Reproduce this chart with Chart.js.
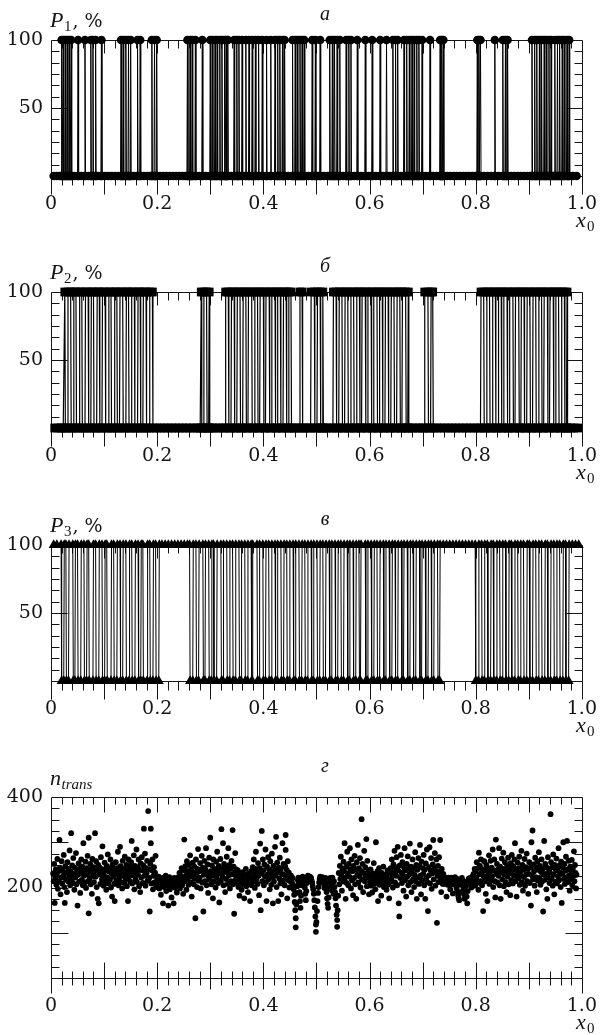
<!DOCTYPE html>
<html><head><meta charset="utf-8">
<script src="https://cdn.jsdelivr.net/npm/chart.js@4.4.1/dist/chart.umd.min.js"></script>
<style>
html,body{margin:0;padding:0;background:#fff;}
#wrap{position:relative;width:614px;height:1035px;overflow:hidden;}
canvas{position:absolute;left:0;}
</style></head><body>
<div id="wrap">
<canvas id="c1" width="614" height="250" style="top:0px"></canvas>
<canvas id="c2" width="614" height="252" style="top:250px"></canvas>
<canvas id="c3" width="614" height="252" style="top:502px"></canvas>
<canvas id="c4" width="614" height="281" style="top:754px"></canvas>
</div>
<script>
// ---------- tick labels ----------
const xTickLabels = ['0','0.2','0.4','0.6','0.8','1.0'];
const pTickLabels = ['','50','100'];
const nTickLabels = ['','200','400'];

// ---------- data (x0 in thousandths) ----------
// P1: samples at 100 % and at 0 %
const p1Up = [20,23,27,31,35,38,51,64,75,79,84,95,132,136,141,146,150,163,168,190,195,199,257,262,266,272,285,300,304,309,313,318,322,327,330,333,345,350,354,360,367,373,379,385,391,398,406,414,422,427,431,436,440,455,460,464,469,473,477,492,498,507,525,530,534,539,544,556,561,565,577,592,605,620,632,644,649,653,665,670,675,680,684,689,693,699,714,733,736,739,803,806,809,836,851,856,860,906,911,915,920,924,929,933,938,942,949,954,958,963,967,972,976];
const p1Down = [5,11,16,19,21,22,24,26,28,30,32,34,36,37,39,44,50,52,57,63,65,70,74,76,78,80,83,85,89,94,96,102,108,114,120,126,131,133,135,137,140,142,145,147,149,151,156,162,164,167,169,175,181,186,189,191,194,196,198,200,206,212,218,224,230,236,242,248,253,256,258,261,263,265,267,271,273,279,284,286,292,299,301,303,305,308,310,312,314,317,319,321,323,326,328,329,331,332,334,339,344,346,349,351,353,355,359,361,366,368,372,374,378,380,384,386,390,392,397,399,405,407,413,415,421,423,426,428,430,432,435,437,439,441,447,454,456,459,461,463,465,468,470,472,474,476,478,485,491,493,497,499,502,506,508,514,520,524,526,529,531,533,535,538,540,543,545,550,555,557,560,562,564,566,571,576,578,584,591,593,599,604,606,612,619,621,626,631,633,638,643,645,648,650,652,654,659,664,666,669,671,674,676,679,681,683,685,688,690,692,694,698,700,706,713,715,720,726,732,734,735,737,738,740,746,752,758,764,770,776,782,788,794,799,802,804,805,807,808,810,816,822,829,835,837,843,850,852,855,857,859,861,867,873,879,885,891,897,902,905,907,910,912,914,916,919,921,923,925,928,930,932,934,937,939,941,943,946,948,950,953,955,957,959,962,964,966,968,971,973,975,977,983,990];

// P2
const p2Up = [26,32,37,43,47,54,58,65,70,76,80,87,91,97,102,109,113,120,124,130,135,142,146,152,157,164,168,174,179,186,191,283,288,293,298,329,334,340,345,351,356,362,367,372,378,384,389,394,400,405,411,416,422,427,432,438,443,448,452,469,473,490,496,502,507,512,532,537,543,548,554,559,565,570,576,581,586,592,597,603,608,614,619,624,630,635,641,646,652,657,662,668,673,704,710,716,719,810,815,821,826,832,837,843,848,853,859,864,870,875,881,886,891,897,902,908,913,919,924,929,935,940,946,951,956,962,967,972];
const p2Down = [7,13,19,23,27,31,38,42,48,53,59,64,71,75,81,86,92,96,103,108,114,119,125,129,136,141,147,151,158,163,169,173,180,185,192,199,206,213,220,227,234,241,248,255,262,269,276,281,284,287,294,297,299,304,310,317,324,328,335,339,346,350,357,361,368,371,379,383,390,393,401,404,412,415,423,426,433,437,444,447,453,458,462,468,474,479,484,489,497,501,508,511,513,519,525,531,538,542,549,553,560,564,571,575,582,585,593,596,604,607,615,618,625,629,636,640,647,651,658,661,669,672,674,681,687,693,700,703,711,715,720,727,734,741,748,755,762,769,776,783,790,797,804,809,816,820,827,831,838,842,849,852,860,863,871,874,882,885,892,896,903,907,914,918,925,928,936,939,947,950,957,961,968,971,973,979,985,992];

// P3
const p3Up = [5,11,19,25,28,34,41,46,50,57,62,68,71,80,84,91,96,102,105,114,118,125,130,136,141,148,152,159,164,170,173,182,186,193,197,204,209,215,221,227,233,239,245,251,257,261,268,273,279,286,291,297,303,306,313,320,325,331,337,342,348,354,359,365,371,377,380,388,393,399,405,410,416,422,427,433,439,444,450,456,461,467,473,478,484,490,495,501,507,512,518,524,529,535,541,546,552,558,563,569,575,580,584,592,597,603,609,614,620,626,631,637,643,648,654,660,665,671,677,682,688,694,699,705,711,716,722,728,733,739,745,751,757,763,769,775,781,787,793,799,806,811,817,822,829,833,840,845,851,856,863,867,874,879,885,890,897,901,908,913,919,924,931,935,942,947,953,958,965,969,976,982,988,994];
const p3Down = [20,24,29,33,42,45,51,56,63,67,72,79,85,90,97,101,106,113,119,124,131,135,142,147,153,158,165,169,174,181,187,192,198,203,262,267,274,278,287,290,298,302,307,312,321,324,332,336,343,347,355,358,366,370,378,379,389,392,400,404,411,415,423,426,434,438,445,449,457,460,468,472,479,483,491,494,502,506,513,517,525,528,536,540,547,551,559,562,570,574,581,583,593,596,604,608,615,619,627,630,638,642,649,653,661,664,672,676,683,687,695,698,706,710,717,721,729,732,800,805,812,816,823,828,834,839,846,850,857,862,868,873,880,884,891,896,902,907,914,918,925,930,936,941,948,952,959,964,970,975];

// n_trans: [x0 (thousandths), n]
const nTrans = [
[4,231],[5,214],[6,252],[7,166],[8,221],[9,240],[10,206],
[11,228],[12,263],[13,197],[14,236],[15,213],[16,305],[17,244],[18,185],[19,222],[20,258],
[21,209],[22,238],[23,226],[24,272],[25,201],[26,166],[27,247],[28,218],[29,233],[30,190],
[31,256],[32,214],[33,241],[34,227],[35,282],[36,205],[37,236],[38,320],[39,219],[40,249],
[41,210],[42,265],[43,230],[44,195],[45,244],[46,222],[47,276],[48,207],[49,239],[50,160],
[51,228],[52,253],[53,213],[54,241],[55,188],[56,232],[57,262],[58,217],[59,246],[60,205],
[61,298],[62,226],[63,238],[64,211],[65,257],[66,199],[67,243],[68,229],[69,270],[70,214],
[71,310],[71,143],[72,235],[73,220],[74,252],[75,207],[76,241],[77,186],[78,263],[79,226],
[80,245],[81,212],[82,236],[83,320],[84,224],[85,258],[86,201],[87,239],[88,175],[89,250],
[90,165],[91,229],[92,244],[93,208],[94,267],[95,233],[96,218],[97,291],[98,240],[99,204],
[100,226],[101,255],[102,213],[103,238],[104,195],[105,248],[106,222],[107,273],[108,209],[109,235],
[110,243],[111,217],[112,262],[113,200],[114,231],[115,180],[116,251],[117,224],[118,240],[119,208],
[120,170],[121,236],[122,256],[123,215],[124,243],[125,228],[126,279],[127,205],[128,238],[129,222],
[130,290],[131,247],[132,212],[133,233],[134,198],[135,259],[136,226],[137,241],[138,210],[139,268],
[140,231],[141,219],[142,250],[143,203],[144,237],[145,170],[146,262],[147,224],[148,245],[149,213],
[150,234],[151,256],[152,303],[153,209],[154,240],[155,227],[156,271],[157,196],[158,248],[159,218],
[160,236],[161,284],[162,212],[163,245],[164,228],[165,262],[166,203],[167,239],[168,190],[169,253],
[170,222],[171,267],[172,238],[173,210],[174,249],[175,330],[176,226],[177,275],[178,204],[179,243],
[180,231],[181,259],[182,215],[183,369],[184,240],[185,221],[186,147],[187,252],[188,330],[188,298],[189,209],
[190,238],[191,262],[192,196],[193,226],[194,245],[195,211],[196,233],[197,270],[198,201],[199,225],
[200,217],[201,209],[203,224],[204,198],[205,213],[207,184],[208,220],[209,206],
[210,215],[211,165],[212,222],[213,201],[214,210],[216,226],[217,192],[218,212],[219,204],
[220,218],[221,160],[222,208],[223,223],[224,196],[226,214],[227,178],[228,219],[229,205],
[230,212],[231,165],[232,221],[233,200],[234,216],[236,208],[237,189],[238,222],[239,211],
[240,203],[241,217],[242,232],[243,198],[244,226],[245,210],[246,243],[247,205],[248,221],[249,186],
[250,238],[251,306],[252,214],[253,247],[254,226],[255,195],[256,258],[257,219],[258,236],[259,206],
[260,250],[261,228],[262,271],[263,211],[264,240],[265,180],[266,224],[267,255],[268,233],[269,207],
[270,246],[271,219],[272,132],[273,262],[274,229],[275,201],[276,241],[277,285],[278,215],[279,236],
[280,222],[281,254],[282,198],[283,238],[284,270],[285,211],[286,244],[287,147],[288,228],[289,259],
[290,214],[291,240],[292,287],[293,205],[294,233],[295,251],[296,188],[297,224],[298,266],[299,217],
[300,310],[301,236],[302,207],[303,249],[304,226],[305,176],[306,262],[307,213],[308,241],[309,230],
[310,200],[311,257],[312,222],[313,279],[314,239],[315,210],[316,248],[317,167],[318,231],[319,263],
[320,215],[321,329],[322,243],[323,224],[324,298],[325,205],[326,252],[327,234],[328,190],[329,245],
[330,219],[331,268],[332,236],[333,208],[334,287],[335,227],[336,250],[337,198],[338,241],[339,214],
[340,259],[341,229],[342,327],[343,207],[344,246],[345,142],[346,233],[347,276],[348,218],[349,240],
[350,225],[351,210],[352,238],[353,201],[354,219],[355,182],[356,231],[357,212],[358,226],[359,195],
[360,220],[361,234],[362,207],[363,215],[364,176],[365,228],[366,211],[367,241],[368,203],[369,222],
[370,216],[371,190],[372,230],[373,208],[374,224],[375,170],[376,213],[377,236],[378,205],[379,221],
[380,245],[381,213],[382,262],[383,228],[384,199],[385,241],[386,279],[387,219],[388,236],[389,208],
[390,254],[391,226],[392,183],[393,243],[394,297],[395,150],[396,231],[397,325],[398,214],[399,262],
[400,238],[401,205],[402,251],[403,225],[404,284],[405,212],[406,170],[407,246],[408,229],[409,267],
[410,218],[411,240],[412,196],[413,258],[414,232],[415,206],[416,275],[417,223],[418,165],[419,248],
[420,213],[421,237],[422,290],[423,226],[424,312],[425,201],[426,255],[427,234],[428,170],[429,244],
[430,220],[431,266],[432,209],[433,241],[434,185],[435,230],[436,298],[437,215],[438,252],[439,228],
[440,205],[441,247],[442,316],[442,283],[443,223],[444,239],[445,176],[446,258],[447,216],[448,233],[449,200],
[450,222],[451,214],[452,226],[453,217],[454,210],[455,221],[456,206],[457,196],[458,184],[459,168],
[460,150],[461,112],[461,132],[462,163],[463,188],[464,203],[465,216],[466,222],[467,211],[468,190],[469,170],
[470,155],[471,182],[472,205],[473,219],[474,224],[475,215],[476,221],[477,212],[478,200],[479,186],
[480,172],[481,192],[482,210],[483,220],[484,226],[485,217],[486,222],[487,214],[488,224],[489,218],
[490,221],[491,215],[492,210],[493,203],[494,196],[495,186],[496,172],[497,156],[498,136],[499,118],[499,102],
[500,124],[501,148],[502,170],[503,188],[504,201],[505,211],[506,219],[507,224],[508,216],[509,222],
[510,217],[511,223],[512,214],[513,220],[514,208],[515,199],[516,213],[517,221],[518,206],[519,190],
[520,176],[521,164],[522,155],[523,178],[524,198],[525,212],[526,221],[527,215],[528,207],[529,194],
[530,222],[531,210],[532,186],[533,214],[534,201],[535,190],[536,176],[537,160],[538,140],[539,113],[539,128],
[540,150],[541,182],[542,232],[543,207],[544,248],[545,219],[546,268],[547,228],[548,193],[549,241],
[550,213],[551,257],[552,236],[553,298],[554,222],[555,175],[556,246],[557,210],[558,279],[559,231],
[560,205],[561,252],[562,224],[563,287],[564,240],[565,198],[566,262],[567,216],[568,236],[569,183],
[570,248],[571,221],[572,270],[573,207],[574,239],[575,175],[576,256],[577,228],[578,294],[579,211],
[580,243],[581,225],[582,265],[583,200],[584,236],[585,351],[586,218],[587,252],[588,190],[589,232],
[590,281],[591,214],[592,245],[593,227],[594,307],[595,203],[596,259],[597,222],[598,238],[599,185],
[600,226],[601,212],[602,240],[603,204],[604,223],[605,189],[606,231],[607,215],[608,254],[609,208],
[610,221],[611,196],[612,300],[613,229],[614,213],[615,236],[616,170],[617,218],[618,243],[619,206],
[620,224],[621,212],[622,182],[623,232],[624,207],[625,219],[626,246],[627,201],[628,227],[629,214],
[630,210],[631,229],[632,195],[633,220],[634,238],[635,206],[636,216],[637,176],[638,231],[639,212],
[640,243],[641,219],[642,262],[643,228],[644,200],[645,251],[646,234],[647,281],[648,211],[649,245],
[650,226],[651,267],[652,205],[653,290],[654,238],[655,165],[656,136],[657,249],[658,221],[659,272],
[660,233],[661,210],[662,256],[663,227],[664,193],[665,244],[666,287],[667,216],[668,238],[669,180],
[670,252],[671,224],[672,269],[673,205],[674,241],[675,229],[676,297],[677,212],[678,246],[679,190],
[680,235],[681,262],[682,218],[683,244],[684,201],[685,228],[686,278],[687,213],[688,250],[689,175],
[690,239],[691,222],[692,265],[693,208],[694,247],[695,294],[696,226],[697,185],[698,257],[699,216],
[700,243],[701,230],[702,272],[703,205],[704,239],[705,175],[706,253],[707,221],[708,284],[709,212],
[710,148],[711,245],[712,227],[713,289],[714,209],[715,238],[716,265],[717,197],[718,231],[719,251],
[720,305],[721,218],[722,242],[723,276],[724,204],[725,236],[726,262],[727,122],[728,226],[729,248],
[730,212],[731,267],[732,235],[733,305],[734,219],[735,190],[736,241],[737,224],[738,208],[739,230],
[740,216],[741,223],[742,208],[743,218],[744,212],[745,180],[746,221],[747,206],[748,215],[749,222],
[750,211],[751,219],[752,196],[753,214],[754,222],[755,207],[756,217],[757,187],[758,220],[759,210],
[760,216],[761,223],[762,205],[763,214],[764,198],[765,219],[766,190],[767,182],[768,176],[769,172],
[770,190],[771,206],[772,218],[773,211],[774,221],[775,208],[776,215],[777,197],[778,185],[779,175],
[780,188],[781,203],[782,213],[783,180],[784,165],[785,192],[786,210],[787,220],[788,213],[789,206],
[790,221],[791,214],[792,200],[793,219],[794,225],[795,209],[796,230],[797,216],[798,241],[799,204],
[800,236],[801,222],[802,256],[803,210],[804,243],[805,195],[806,277],[807,229],[808,248],[809,214],
[810,262],[811,233],[812,205],[813,240],[814,148],[815,225],[816,258],[817,213],[818,237],[819,186],
[820,250],[821,219],[822,170],[823,242],[824,228],[825,271],[826,208],[827,235],[828,259],[829,216],
[830,244],[831,225],[832,284],[833,201],[834,238],[835,262],[836,214],[837,178],[838,306],[839,230],
[840,252],[841,211],[842,240],[843,226],[844,287],[845,205],[846,246],[847,175],[848,233],[849,264],
[850,218],[851,241],[852,277],[853,203],[854,229],[855,256],[856,212],[857,236],[858,190],[859,248],
[860,224],[861,266],[862,207],[863,243],[864,231],[865,183],[866,254],[867,216],[868,272],[869,238],
[870,209],[871,247],[872,226],[873,262],[874,298],[875,214],[876,240],[877,180],[878,231],[879,255],
[880,220],[881,243],[882,268],[883,206],[884,236],[885,226],[886,281],[887,212],[888,250],[889,193],
[890,239],[891,223],[892,263],[893,204],[894,245],[895,229],[896,275],[897,214],[898,241],[899,186],
[900,230],[901,256],[902,210],[903,244],[904,160],[905,300],[906,227],[907,326],[908,218],[909,251],
[910,236],[911,204],[912,266],[913,223],[914,245],[915,190],[916,258],[917,215],[918,239],[919,278],
[920,221],[921,248],[922,206],[923,234],[924,262],[925,213],[926,241],[927,147],[928,229],[929,303],
[930,217],[931,252],[932,230],[933,196],[934,244],[935,175],[936,267],[937,222],[938,240],[939,210],
[940,233],[941,362],[942,256],[943,219],[944,245],[945,204],[946,273],[947,228],[948,185],[949,250],
[950,213],[951,238],[952,264],[953,209],[954,242],[955,225],[956,287],[957,216],[958,249],[959,233],
[960,201],[961,257],[962,166],[963,230],[964,244],[965,300],[966,219],[967,252],[968,208],[969,237],
[970,268],[971,223],[972,303],[973,240],[974,212],[975,259],[976,227],[977,193],[978,246],[979,218],
[980,236],[981,261],[982,205],[983,242],[984,226],[985,280],[986,214],[987,250],[988,232],[989,198],[990,228]
];

// ---------- helpers ----------
const INK = '#151515';
const DIGIT_FONT = {family: '"DejaVu Serif", serif', size: 19};
function levelSeries(up, down) {
  const pts = up.map(v => ({x: v / 1000, y: 100})).concat(down.map(v => ({x: v / 1000, y: 0})));
  pts.sort((a, b) => a.x - b.x);
  return pts;
}
function crisp(v) { return Math.round(v) + 0.5; }

const framePlugin = {
  id: 'frame',
  beforeDatasetsDraw(chart, args, o) {
    const ctx = chart.ctx, xs = chart.scales.x, ys = chart.scales.y;
    const L = crisp(xs.getPixelForValue(0)), R = crisp(xs.getPixelForValue(1));
    const T = crisp(ys.getPixelForValue(ys.max)), B = crisp(ys.getPixelForValue(0));
    ctx.save();
    ctx.strokeStyle = INK; ctx.lineWidth = 1;
    ctx.beginPath();
    const seg = (x1, y1, x2, y2) => { ctx.moveTo(x1, y1); ctx.lineTo(x2, y2); };
    seg(L, T, R, T); seg(L, B, R, B);
    seg(L, T, L, B + o.sideDrop); seg(R, T, R, B + o.sideDrop);
    for (let i = 1; i < 50; i++) {
      const px = crisp(xs.getPixelForValue(i / 50));
      const major = i % 5 === 0;
      seg(px, T, px, T + (major ? o.topMajor : o.topMinor));
      seg(px, B - (major ? o.botUpMajor : o.botUpMinor), px, B + (major ? o.botDnMajor : o.botDnMinor));
    }
    for (let i = 1; i < o.yDivs; i++) {
      const py = crisp(ys.getPixelForValue(ys.max * i / o.yDivs));
      const len = (i % o.yMajorEvery === 0) ? o.yMajor : o.yMinor;
      seg(L, py, L + len, py); seg(R, py, R - len, py);
    }
    ctx.stroke();
    ctx.restore();
  },
  afterDraw(chart, args, o) {
    const ctx = chart.ctx, ys = chart.scales.y;
    const B = ys.getPixelForValue(0);
    ctx.save();
    ctx.fillStyle = INK; ctx.textAlign = 'left'; ctx.textBaseline = 'alphabetic';
    let x = 50;
    ctx.font = 'italic 22px "Liberation Serif", serif';
    ctx.fillText(o.main, x, o.titleY);
    x += ctx.measureText(o.main).width + 0.5;
    ctx.font = (o.subItalic ? 'italic ' : '') + '15px "Liberation Serif", serif';
    ctx.fillText(o.sub, x, o.titleY + 4);
    x += ctx.measureText(o.sub).width + 1;
    if (o.tail) { ctx.font = '19px "DejaVu Serif", serif'; ctx.fillText(o.tail, x, o.titleY); }
    ctx.textAlign = 'center';
    ctx.font = 'italic 20px "Liberation Serif", serif';
    ctx.fillText(o.letter, 325, o.letterY);
    ctx.textAlign = 'left';
    ctx.font = 'italic 22px "Liberation Serif", serif';
    ctx.fillText('x', 576, B + 51);
    ctx.font = '15px "Liberation Serif", serif';
    ctx.fillText('0', 587, B + 55);
    ctx.restore();
  }
};

function makePanel(id, cfg) {
  new Chart(document.getElementById(id), {
    type: cfg.type,
    data: {datasets: [cfg.dataset]},
    plugins: [framePlugin],
    options: {
      responsive: false, animation: false, events: [],
      layout: {padding: {top: cfg.padTop, left: 0, right: 16, bottom: 0}},
      plugins: {legend: {display: false}, tooltip: {enabled: false}, frame: cfg.frame},
      scales: {
        x: {
          type: 'linear', min: 0, max: 1,
          grid: {display: false, drawTicks: false}, border: {display: false},
          ticks: {stepSize: 0.2, autoSkip: false, maxRotation: 0, padding: 17, color: INK, font: DIGIT_FONT,
                  callback: (v, i) => xTickLabels[i]},
          afterFit: s => { s.height = cfg.xHeight; }
        },
        y: {
          type: 'linear', min: 0, max: cfg.yMax,
          grid: {display: false, drawTicks: false}, border: {display: false},
          ticks: {stepSize: cfg.yMax / 2, autoSkip: false, padding: 8, color: INK, font: DIGIT_FONT,
                  callback: (v, i) => cfg.yLabels[i]},
          afterFit: s => { s.width = 51; }
        }
      }
    }
  });
}

const levelFrame = {sideDrop: 18, topMajor: 13, topMinor: 8, botUpMajor: 0, botUpMinor: 0,
  botDnMajor: 18, botDnMinor: 9, yDivs: 12, yMajorEvery: 6, yMajor: 16, yMinor: 8};

function levelDataset(up, down, style, radius, lw) {
  return {type: 'line', data: levelSeries(up, down), borderColor: '#000', borderWidth: lw,
    pointStyle: style, pointRadius: radius, pointBackgroundColor: '#000', pointBorderColor: '#000',
    pointBorderWidth: 0, tension: 0, clip: false, spanGaps: true};
}

makePanel('c1', {type: 'line', padTop: 40, xHeight: 74, yMax: 100, yLabels: pTickLabels,
  dataset: levelDataset(p1Up, p1Down, 'circle', 4.3, 1),
  frame: Object.assign({main: 'P', sub: '1', tail: ', %', titleY: 27, letter: 'а', letterY: 20}, levelFrame)});

makePanel('c2', {type: 'line', padTop: 42, xHeight: 74, yMax: 100, yLabels: pTickLabels,
  dataset: levelDataset(p2Up, p2Down, 'rect', 6.2, 1.2),
  frame: Object.assign({main: 'P', sub: '2', tail: ', %', titleY: 29, letter: 'б', letterY: 22}, levelFrame)});

makePanel('c3', {type: 'line', padTop: 43, xHeight: 73, yMax: 100, yLabels: pTickLabels,
  dataset: levelDataset(p3Up, p3Down, 'triangle', 5.8, 1),
  frame: Object.assign({main: 'P', sub: '3', tail: ', %', titleY: 30, letter: 'в', letterY: 23}, levelFrame)});

makePanel('c4', {type: 'scatter', padTop: 43, xHeight: 57, yMax: 400, yLabels: nTickLabels,
  dataset: {data: nTrans.map(p => ({x: p[0] / 1000, y: p[1]})), pointRadius: 2.9,
    pointBackgroundColor: '#000', pointBorderWidth: 0, showLine: false, clip: false},
  frame: {main: 'n', sub: 'trans', subItalic: true, tail: '', titleY: 31, letter: 'г', letterY: 18,
    sideDrop: 15, topMajor: 15, topMinor: 7, botUpMajor: 16, botUpMinor: 7, botDnMajor: 11, botDnMinor: 7,
    yDivs: 16, yMajorEvery: 4, yMajor: 17, yMinor: 8}});
</script>
</body></html>
